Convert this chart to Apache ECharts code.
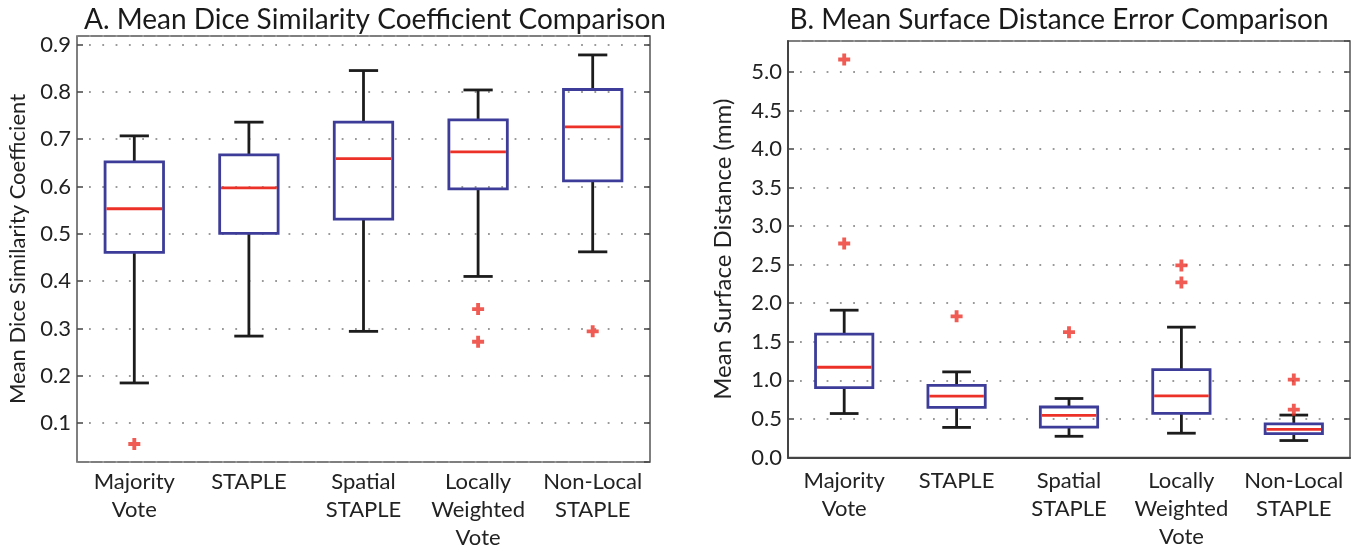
<!DOCTYPE html>
<html>
<head>
<meta charset="utf-8">
<script src="https://cdn.jsdelivr.net/npm/echarts@6/dist/echarts.min.js"></script>
<style>
html,body{margin:0;padding:0;background:#fff;}
#chart{width:1372px;height:555px;}
</style>
</head>
<body>
<div id="chart"></div>
<script>
// ---------- DATA ----------
const categories = ['Majority\nVote', 'STAPLE', 'Spatial\nSTAPLE', 'Locally\nWeighted\nVote', 'Non-Local\nSTAPLE'];

// Panel A: Mean Dice Similarity Coefficient
const diceLow    = [0.185, 0.284, 0.294, 0.410, 0.462];
const diceQ1     = [0.461, 0.501, 0.531, 0.595, 0.612];
const diceMedian = [0.553, 0.597, 0.659, 0.673, 0.726];
const diceQ3     = [0.652, 0.667, 0.736, 0.741, 0.805];
const diceHigh   = [0.707, 0.736, 0.845, 0.804, 0.878];
const diceOutliers = [[0, 0.056], [3, 0.341], [3, 0.272], [4, 0.294]];

// Panel B: Mean Surface Distance (mm)
const msdLow    = [0.57, 0.39, 0.275, 0.315, 0.22];
const msdQ1     = [0.905, 0.65, 0.395, 0.573, 0.31];
const msdMedian = [1.17, 0.795, 0.545, 0.80, 0.365];
const msdQ3     = [1.60, 0.935, 0.655, 1.14, 0.435];
const msdHigh   = [1.91, 1.11, 0.765, 1.69, 0.55];
const msdOutliers = [[0, 5.16], [0, 2.775], [1, 1.83], [2, 1.625], [3, 2.49], [3, 2.27], [4, 1.01], [4, 0.62]];

const titleA = 'A. Mean Dice Similarity Coefficient Comparison';
const titleB = 'B. Mean Surface Distance Error Comparison';
const yNameA = 'Mean Dice Similarity Coefficient';
const yNameB = 'Mean Surface Distance (mm)';

// ---------- BUILD ----------
function boxData(lo, q1, med, q3, hi) {
  return lo.map((v, i) => [i, lo[i], q1[i], med[i], q3[i], hi[i]]);
}

const FONT = 'Lato';
const BLUE = '#3d3d99';
const RED = '#ec3228';
const BLACK = '#1c1c1c';

function renderBox(params, api) {
  const idx = api.value(0);
  const low = api.coord([idx, api.value(1)]);
  const q1 = api.coord([idx, api.value(2)]);
  const med = api.coord([idx, api.value(3)]);
  const q3 = api.coord([idx, api.value(4)]);
  const high = api.coord([idx, api.value(5)]);
  const band = api.size([1, 0])[0];
  const bw = band * 0.51;
  const cw = bw / 2;
  const x = low[0];
  const blk = { stroke: BLACK, lineWidth: 2.8 };
  return {
    type: 'group',
    children: [
      { type: 'line', shape: { x1: x, y1: q1[1], x2: x, y2: low[1] }, style: blk },
      { type: 'line', shape: { x1: x, y1: q3[1], x2: x, y2: high[1] }, style: blk },
      { type: 'line', shape: { x1: x - cw / 2, y1: low[1], x2: x + cw / 2, y2: low[1] }, style: blk },
      { type: 'line', shape: { x1: x - cw / 2, y1: high[1], x2: x + cw / 2, y2: high[1] }, style: blk },
      { type: 'rect', shape: { x: x - bw / 2, y: q3[1], width: bw, height: q1[1] - q3[1] },
        style: { fill: 'rgba(0,0,0,0)', stroke: BLUE, lineWidth: 2.8 } },
      { type: 'line', shape: { x1: x - bw / 2 + 1.4, y1: med[1], x2: x + bw / 2 - 1.4, y2: med[1] },
        style: { stroke: RED, lineWidth: 2.8 } }
    ]
  };
}

const PLUS = 'path://M3.4,0H6.6V3.4H10V6.6H6.6V10H3.4V6.6H0V3.4H3.4Z';

const labelStyle = { fontFamily: FONT, fontSize: 22, color: '#222' };

function yAxisPair(gridIndex, min, max, name, nameGap, nameSize, useInterval, axisLineShow) {
  const base = {
    gridIndex: gridIndex,
    type: 'value',
    min: min, max: max,
    axisTick: { show: true, inside: true, length: 6, lineStyle: { color: '#444', width: 1.5 } },
  };
  if (useInterval) base.interval = useInterval; else base.splitNumber = 9;
  const left = Object.assign({}, base, {
    position: 'left',
    name: name,
    nameLocation: 'middle',
    nameGap: nameGap,
    nameTextStyle: { fontFamily: FONT, fontSize: nameSize, color: '#222' },
    axisLine: { show: axisLineShow, lineStyle: { color: '#444', width: 2 } },
    axisLabel: Object.assign({}, labelStyle, { margin: 6, showMinLabel: gridIndex === 1, showMaxLabel: false,
      formatter: v => v.toFixed(1) }),
    splitLine: { show: true, lineStyle: { color: '#9a9a9a', width: 1.8, type: [1.8, 11.5], dashOffset: -12 } }
  });
  const right = Object.assign({}, base, {
    position: 'right',
    axisLine: { show: false },
    axisLabel: { show: false },
    splitLine: { show: false }
  });
  return [left, right];
}

const yA = yAxisPair(0, 0.018, 0.918, yNameA, 48, 22, null, false);
const yB = yAxisPair(1, 0, 5.4, yNameB, 53, 24, 0.5, true);

const option = {
  backgroundColor: '#fff',
  animation: false,
  title: [
    { text: titleA, left: 370, top: 1, textAlign: 'center',
      textStyle: { fontFamily: FONT, fontSize: 28, fontWeight: 'normal', color: '#1a1a1a' } },
    { text: titleB, left: 1054, top: 1, textAlign: 'center',
      textStyle: { fontFamily: FONT, fontSize: 28, fontWeight: 'normal', color: '#1a1a1a' } }
  ],
  grid: [
    { left: 77, top: 36, width: 573, height: 426, show: true, borderColor: '#555', borderWidth: 1.5, containLabel: false },
    { left: 788, top: 41, width: 562, height: 416.5, show: true, borderColor: '#555', borderWidth: 1.5, containLabel: false }
  ],
  xAxis: [
    { gridIndex: 0, type: 'category', data: categories,
      axisLine: { show: false }, axisTick: { show: false },
      axisLabel: Object.assign({}, labelStyle, { margin: 6, lineHeight: 28, interval: 0 }),
      splitLine: { show: false } },
    { gridIndex: 1, type: 'category', data: categories,
      axisLine: { show: true, onZero: false, lineStyle: { color: '#444', width: 2.2 } }, axisTick: { show: false },
      axisLabel: Object.assign({}, labelStyle, { margin: 9, lineHeight: 28, interval: 0 }),
      splitLine: { show: false } }
  ],
  yAxis: [yA[0], yA[1], yB[0], yB[1]],
  series: [
    { type: 'custom', xAxisIndex: 0, yAxisIndex: 0, renderItem: renderBox,
      encode: { x: 0, y: [1, 2, 3, 4, 5] },
      data: boxData(diceLow, diceQ1, diceMedian, diceQ3, diceHigh), z: 3 },
    { type: 'scatter', xAxisIndex: 0, yAxisIndex: 0, symbol: PLUS, symbolSize: 12,
      itemStyle: { color: RED }, data: diceOutliers, z: 4 },
    { type: 'custom', xAxisIndex: 1, yAxisIndex: 2, renderItem: renderBox,
      encode: { x: 0, y: [1, 2, 3, 4, 5] },
      data: boxData(msdLow, msdQ1, msdMedian, msdQ3, msdHigh), z: 3 },
    { type: 'scatter', xAxisIndex: 1, yAxisIndex: 2, symbol: PLUS, symbolSize: 12,
      itemStyle: { color: RED }, data: msdOutliers, z: 4 }
  ]
};

const chart = echarts.init(document.getElementById('chart'), null, { renderer: 'canvas' });
chart.setOption(option);
</script>
</body>
</html>
